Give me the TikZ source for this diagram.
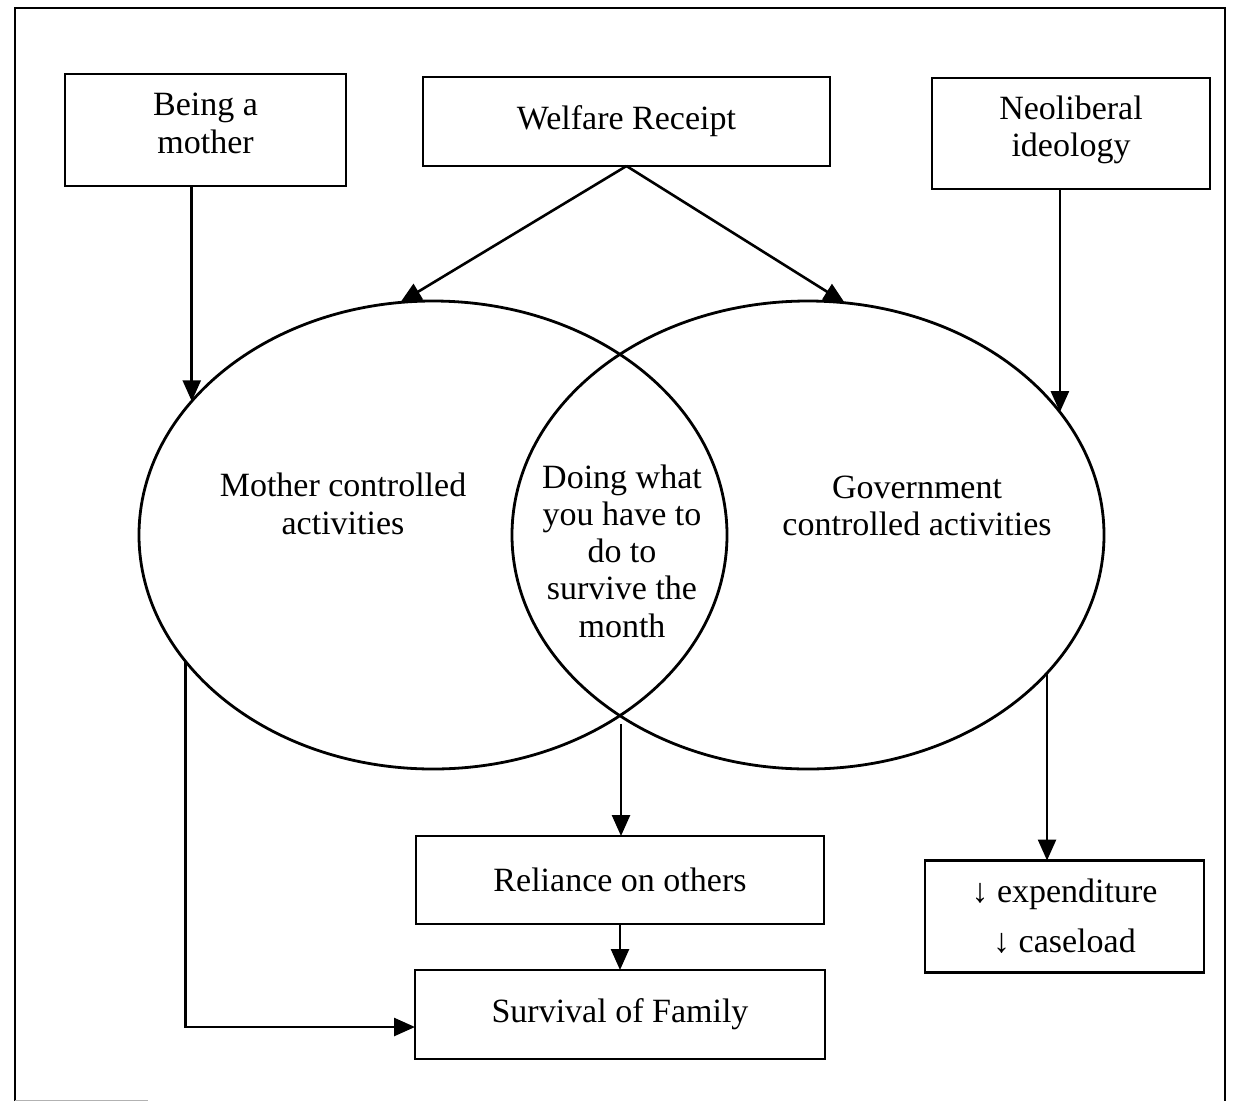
\documentclass[tikz,border=0pt]{standalone}
\usepackage{fontspec}
\setmainfont{Liberation Serif}
\usetikzlibrary{arrows.meta,shapes.geometric,calc}
\begin{document}
\begin{tikzpicture}[x=1pt,y=-1pt,
  every node/.style={font=\fontsize{34}{37.3}\selectfont},
  box/.style={draw,line width=2.5pt,inner sep=0pt,outer sep=0pt,align=center},
  oval/.style={draw,ellipse,line width=2.8pt,inner sep=0pt,outer sep=0pt},
  arr/.style={line width=2.6pt,-{Triangle[length=21pt,width=18pt]}},
  lbl/.style={align=center,inner sep=0pt}]
\useasboundingbox (0,0) rectangle (1234,1101);
% outer frame
\draw[line width=2.8pt] (15,1101) -- (15,8) -- (1225,8) -- (1225,1101);
\draw[line width=1pt,black!30] (15,1100) -- (148,1100);

% boxes
\node[box,minimum width=281pt,minimum height=112pt] (mother) at (205.5,130) {Being a\\mother\\[-24pt]};
\node[box,minimum width=407pt,minimum height=89pt] (welfare) at (626.5,121.5) {Welfare Receipt};
\node[box,minimum width=278pt,minimum height=111pt] (neo) at (1071,133.5) {Neoliberal\\ideology\\[-23pt]};
\node[box,minimum width=408pt,minimum height=88pt] (reliance) at (620,880) {Reliance on others};
\node[box,minimum width=410pt,minimum height=89pt] (survival) at (620,1014.5) {Survival of Family};
\node[box,minimum width=279pt,minimum height=112pt,font=\fontsize{34}{50}\selectfont] (expend) at (1064.5,916.5) {↓ expenditure\\↓ caseload};

% overlapping spheres of control
\node[oval,minimum width=588pt,minimum height=468pt] (L) at (433,535) {};
\node[oval,minimum width=592pt,minimum height=468pt] (R) at (808,535) {};

\node[lbl] (mtxt) at (343,504) {Mother controlled\\activities};
\node[lbl] (gtxt) at (917,506) {Government\\controlled activities};
\node[lbl] (ltxt) at (622,551) {Doing what\\you have to\\do to\\survive the\\month};

% influences
\draw[arr] (mother.south -| L.151.5) -- (L.151.5);
\draw[arr] (welfare.south) -- (L.98);
\draw[arr] (welfare.south) -- (R.81);
\draw[arr] (neo.south -| R.26.6) -- (R.26.6);

% outcomes
\draw[arr] (L.207.2) |- ($(survival.west)+(0,12.5)$);
\coordinate (lensfoot) at (621,724);
\draw[arr] (lensfoot) -- (lensfoot |- reliance.north);
\draw[arr] (reliance.south) -- (survival.north);
\draw[arr] (R.330.9) -- (R.330.9 |- expend.north);
\end{tikzpicture}
\end{document}
